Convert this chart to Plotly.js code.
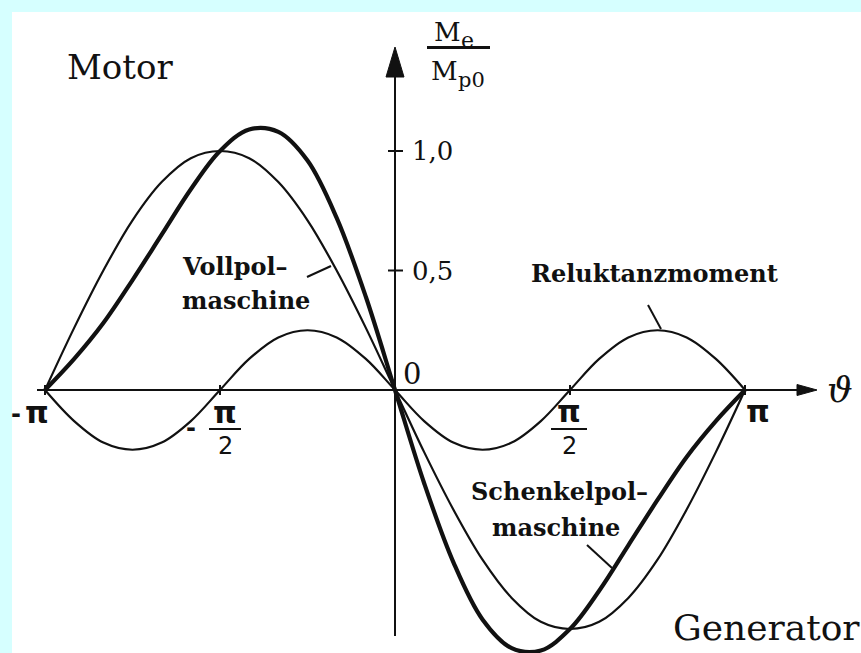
<!DOCTYPE html>
<html>
<head>
<meta charset="utf-8">
<script src="https://cdn.plot.ly/plotly-3.0.1.min.js"></script>
<style>
  html, body { margin: 0; padding: 0; background: #d6ffff; }
  #chart { width: 861px; height: 653px; }
</style>
</head>
<body>
<div id="chart"></div>
<script>
// Load angle in degrees, -180 .. 180 (shown as -π .. π)
const theta = [-180, -165, -150, -135, -120, -105, -90, -75, -60, -45, -30, -15, 0,
               15, 30, 45, 60, 75, 90, 105, 120, 135, 150, 165, 180];

// Torque M_e / M_p0 of the round-rotor machine
const vollpol = [0, 0.26, 0.5, 0.71, 0.87, 0.97, 1.0, 0.97, 0.87, 0.71, 0.5, 0.26, 0,
                 -0.26, -0.5, -0.71, -0.87, -0.97, -1.0, -0.97, -0.87, -0.71, -0.5, -0.26, 0];

// Reluctance torque
const reluktanz = [0, -0.13, -0.22, -0.25, -0.22, -0.13, 0, 0.13, 0.22, 0.25, 0.22, 0.13, 0,
                   -0.13, -0.22, -0.25, -0.22, -0.13, 0, 0.13, 0.22, 0.25, 0.22, 0.13, 0];

// Salient-pole machine (round-rotor part plus reluctance part)
const schenkelpol = [0, 0.13, 0.28, 0.46, 0.65, 0.84, 1.0, 1.09, 1.08, 0.96, 0.72, 0.39, 0,
                     -0.39, -0.72, -0.96, -1.08, -1.09, -1.0, -0.84, -0.65, -0.46, -0.28, -0.13, 0];

// Axis tick labels
const yTickValues = [1.0, 0.5];
const yTickLabels = ['1,0', '0,5'];

// ---- geometry of the drawing (pixels of the 861 x 653 page) ----
const W = 861, H = 653;
const M = {l: 12, r: 0, t: 12, b: 0};
const ORIGIN_X = 395, ORIGIN_Y = 390;      // where the axes cross
const PX_PER_DEG = 350 / 180;              // π spans 350 px
const PX_PER_UNIT = 239;                   // 1,0 spans 239 px

const dx = px => (px - ORIGIN_X) / PX_PER_DEG;
const dy = py => (ORIGIN_Y - py) / PX_PER_UNIT;

const INK = '#111111';
const SERIF = 'DejaVu Serif, serif';
const SANS = 'DejaVu Sans, sans-serif';

function curve(y, width) {
  return {
    x: theta, y: y, type: 'scatter', mode: 'lines',
    line: {color: INK, width: width, shape: 'spline', smoothing: 1},
    cliponaxis: false, hoverinfo: 'skip', showlegend: false
  };
}

const traces = [
  curve(reluktanz, 2.2),
  curve(vollpol, 2.2),
  curve(schenkelpol, 4.2)
];

function seg(x0, y0, x1, y1, w) {
  return {type: 'line', xref: 'x', yref: 'y',
          x0: dx(x0), y0: dy(y0), x1: dx(x1), y1: dy(y1),
          line: {color: INK, width: w || 2}, layer: 'above'};
}
function tri(p) {
  const d = 'M ' + p.map(q => dx(q[0]) + ',' + dy(q[1])).join(' L ') + ' Z';
  return {type: 'path', xref: 'x', yref: 'y', path: d,
          fillcolor: INK, line: {color: INK, width: 1}, layer: 'above'};
}

const shapes = [
  // axes
  seg(37, ORIGIN_Y, 800, ORIGIN_Y, 2),
  seg(ORIGIN_X, 75, ORIGIN_X, 636, 2),
  // arrow heads
  tri([[817, ORIGIN_Y], [797, ORIGIN_Y - 5.5], [797, ORIGIN_Y + 5.5]]),
  tri([[ORIGIN_X, 47], [ORIGIN_X - 9, 77], [ORIGIN_X + 9, 77]]),
  // fraction bars of the labels
  seg(427, 47.5, 490, 47.5, 3),
  seg(209, 429, 241, 429, 2),
  seg(551, 429, 587, 429, 2),
  // leader lines to the curves
  seg(307, 277, 331, 266, 2),
  seg(648, 305, 661, 329, 2),
  seg(587, 545, 612, 568, 2)
];
// y ticks
yTickValues.forEach(v => {
  const py = ORIGIN_Y - v * PX_PER_UNIT;
  shapes.push(seg(388, py, 403, py, 2));
});
// x ticks at ±π/2, ±π
[-180, -90, 90, 180].forEach(d => {
  const px = ORIGIN_X + d * PX_PER_DEG;
  shapes.push(seg(px, ORIGIN_Y - 5, px, ORIGIN_Y + 5, 2));
});

function label(text, px, py, size, opts) {
  opts = opts || {};
  return {
    text: text, xref: 'x', yref: 'y', x: dx(px), y: dy(py),
    xanchor: opts.xanchor || 'center', yanchor: 'middle',
    showarrow: false, borderpad: 0,
    font: {family: opts.family || SERIF, size: size, color: INK,
           weight: opts.bold ? 'bold' : 'normal',
           style: opts.italic ? 'italic' : 'normal'}
  };
}

const annotations = [
  label('Motor', 66, 67, 34, {xanchor: 'left'}),
  label('Generator', 672, 627, 36, {xanchor: 'left'}),
  // y-axis quantity M_e / M_p0
  label('M', 447, 32, 26),
  label('e', 460, 40, 22, {xanchor: 'left'}),
  label('M', 444, 71, 26),
  label('p0', 457, 80, 21, {xanchor: 'left'}),
  // origin and axis symbol
  label('0', 412, 374, 29),
  label('ϑ', 840, 389, 36, {italic: true}),
  // x tick labels
  label('-', 16, 414, 24, {family: SANS, bold: true}),
  label('π', 37, 412, 30, {family: SANS, bold: true}),
  label('-', 191, 428, 24, {family: SANS, bold: true}),
  label('π', 225, 412, 30, {family: SANS, bold: true}),
  label('2', 225, 446, 24, {family: SANS}),
  label('π', 569, 411, 30, {family: SANS, bold: true}),
  label('2', 569, 446, 24, {family: SANS}),
  label('π', 758, 411, 30, {family: SANS, bold: true}),
  // curve names
  label('Vollpol–', 181, 266, 24, {xanchor: 'left', bold: true}),
  label('maschine', 181, 300, 24, {xanchor: 'left', bold: true}),
  label('Reluktanzmoment', 530, 273, 24, {xanchor: 'left', bold: true}),
  label('Schenkelpol–', 470, 491, 24, {xanchor: 'left', bold: true}),
  label('maschine', 491, 527, 24, {xanchor: 'left', bold: true})
];
yTickValues.forEach((v, i) => {
  annotations.push(label(yTickLabels[i], 411, ORIGIN_Y - v * PX_PER_UNIT, 26, {xanchor: 'left'}));
});

const hidden = {showgrid: false, zeroline: false, showticklabels: false, ticks: '',
                showline: false, fixedrange: true};

const layout = {
  width: W, height: H,
  margin: M,
  paper_bgcolor: '#d6ffff',
  plot_bgcolor: '#ffffff',
  xaxis: Object.assign({range: [dx(M.l), dx(W - M.r)]}, hidden),
  yaxis: Object.assign({range: [dy(H - M.b), dy(M.t)]}, hidden),
  shapes: shapes,
  annotations: annotations,
  showlegend: false
};

Plotly.newPlot('chart', traces, layout, {displayModeBar: false, staticPlot: true});
</script>
</body>
</html>
